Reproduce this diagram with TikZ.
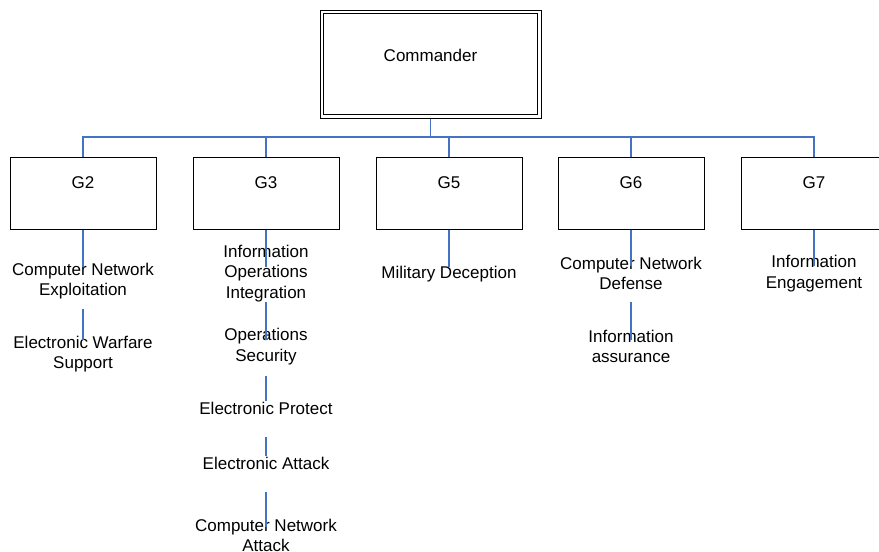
\documentclass[tikz,border=0pt]{standalone}
\usepackage{fontspec}
\setmainfont{Liberation Sans}
\definecolor{conn}{RGB}{68,114,196}
\begin{document}
\begin{tikzpicture}[x=1pt,y=-1pt,
  gbox/.style={draw=black,line width=1pt,minimum width=146pt,minimum height=72pt,inner sep=0pt},
  gtext/.style={font=\fontsize{17pt}{20.5pt}\selectfont},
  item/.style={font=\fontsize{17pt}{20.5pt}\selectfont,align=center,inner sep=0pt},
  conn/.style={draw=conn,line width=1.5pt}]
\useasboundingbox (0,0) rectangle (879,552);
% commander
\node[draw=black,line width=1pt,minimum width=221pt,minimum height=108pt,inner sep=0pt] (cmdo) at (430.5,64) {};
\node[draw=black,line width=1pt,minimum width=214pt,minimum height=101pt,inner sep=0pt] (cmd) at (430.5,64) {};
\node[gtext] (cmdt) at (430.5,55) {Commander};
% G boxes
\node[gbox] (g2) at (83,193) {};
\node[gbox] (g3) at (266,193) {};
\node[gbox] (g5) at (449,193) {};
\node[gbox] (g6) at (631,193) {};
\node[gbox] (g7) at (814,193) {};
\node[gtext] at (83,183) {G2};
\node[gtext] at (266,183) {G3};
\node[gtext] at (449,183) {G5};
\node[gtext] at (631,183) {G6};
\node[gtext] at (814,183) {G7};
% bus
\coordinate (bus) at (430.5,137);
\coordinate (busL) at (83,137);
\coordinate (busR) at (814,137);
\draw[conn] (cmdo.south) -- (bus);
\draw[conn] (g2.north) -- (busL) -- (busR) -- (g7.north);
\draw[conn] (g3.north) -- (g3.north |- bus);
\draw[conn] (g5.north) -- (g5.north |- bus);
\draw[conn] (g6.north) -- (g6.north |- bus);
% G2 items
\node[item] (cne) at (83,281) {Computer Network\\Exploitation};
\node[item] (ews) at (83,354) {Electronic Warfare\\Support};
\coordinate (cneT) at (83,267);
\coordinate (cneB) at (83,309);
\coordinate (ewsT) at (83,340);
\draw[conn] (g2.south) -- (cneT);
\draw[conn] (cneB) -- (ewsT);
% G3 items
\node[item] (ioi) at (266,273.5) {Information\\Operations\\Integration};
\node[item] (ops) at (266,346.5) {Operations\\Security};
\node[item] (ep) at (266,408) {Electronic Protect};
\node[item] (ea) at (266,463) {Electronic Attack};
\node[item] (cna) at (266,535.5) {Computer Network\\Attack};
\coordinate (ioiT) at (266,267);
\coordinate (ioiB) at (266,302);
\coordinate (opsT) at (266,340);
\coordinate (opsB) at (266,376);
\coordinate (epT) at (266,401);
\coordinate (epB) at (266,437);
\coordinate (eaT) at (266,456);
\coordinate (eaB) at (266,492);
\coordinate (cnaT) at (266,527);
\draw[conn] (g3.south) -- (ioiT);
\draw[conn] (ioiB) -- (opsT);
\draw[conn] (opsB) -- (epT);
\draw[conn] (epB) -- (eaT);
\draw[conn] (eaB) -- (cnaT);
% G5
\node[item] (md) at (449,274) {Military Deception};
\coordinate (mdT) at (449,267);
\draw[conn] (g5.south) -- (mdT);
% G6
\node[item] (cnd) at (631,273.5) {Computer Network\\Defense};
\node[item] (ia) at (631,346.5) {Information\\assurance};
\coordinate (cndT) at (631,266);
\coordinate (cndB) at (631,302);
\coordinate (iaT) at (631,340);
\draw[conn] (g6.south) -- (cndT);
\draw[conn] (cndB) -- (iaT);
% G7
\node[item] (ie) at (814,273.5) {Information\\Engagement};
\coordinate (ieT) at (814,266);
\draw[conn] (g7.south) -- (ieT);
\end{tikzpicture}
\end{document}
